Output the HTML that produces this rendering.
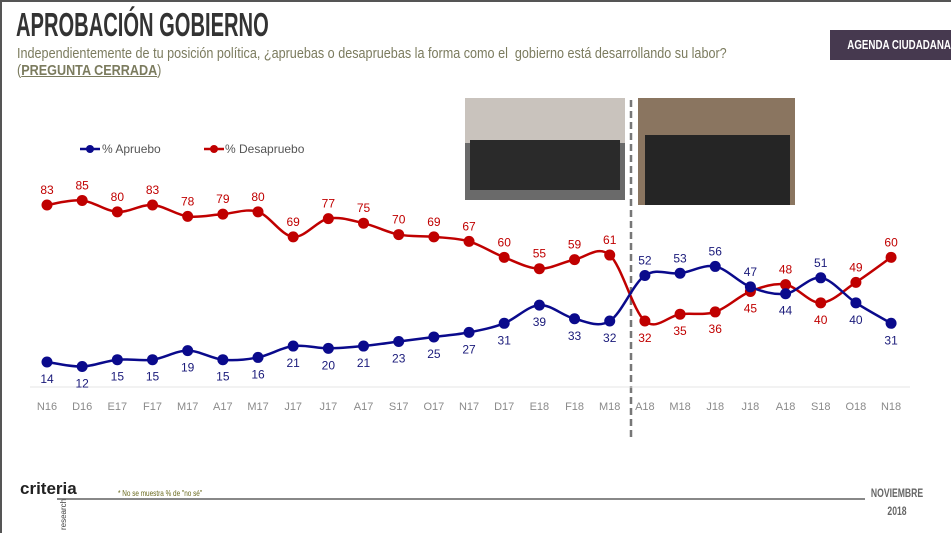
<!DOCTYPE html><html><head><meta charset="utf-8"><style>
body{margin:0;width:951px;height:533px;overflow:hidden;background:#fff;font-family:"Liberation Sans",sans-serif;position:relative}
.frame{position:absolute;left:0;top:0;width:951px;height:533px;box-sizing:border-box;border-left:2px solid #555;border-top:2px solid #555}
.t{position:absolute;left:16px;top:6px;font-size:33px;font-weight:bold;color:#333;transform:scaleX(.61);transform-origin:left;white-space:nowrap}
.s{position:absolute;left:17px;top:46px;font-size:14.5px;color:#7b7b5e;transform:scaleX(.87);transform-origin:left;white-space:nowrap;line-height:17px}
.badge{position:absolute;left:830px;top:30px;width:121px;height:30px;background:#46394f;color:#fff;font-size:13px;font-weight:bold;line-height:30px;text-align:center;white-space:nowrap;overflow:hidden}
svg{position:absolute;left:0;top:0}
</style></head><body>
<div class="frame"></div>
<div class="t">APROBACIÓN GOBIERNO</div>
<div class="s">Independientemente de tu posición política, ¿apruebas o desapruebas la forma como el &nbsp;gobierno está desarrollando su labor?<br>(<u style="font-weight:bold">PREGUNTA CERRADA</u>)</div>
<div class="badge"><span style="display:inline-block;transform:scaleX(.75)">AGENDA CIUDADANA</span></div>
<svg id="c" width="951" height="533"></svg>
<script>
var A=[14,12,15,15,19,15,16,21,20,21,23,25,27,31,39,33,32,52,53,56,47,44,51,40,31];
var D=[83,85,80,83,78,79,80,69,77,75,70,69,67,60,55,59,61,32,35,36,45,48,40,49,60];
var L=["N16","D16","E17","F17","M17","A17","M17","J17","J17","A17","S17","O17","N17","D17","E18","F18","M18","A18","M18","J18","J18","A18","S18","O18","N18"];
function X(i){return 47+35.17*i}function Y(v){return 205+(83-v)*2.275}
function path(d){var p=d.map(function(v,i){return[X(i),Y(v)]});var s="M"+p[0];for(var i=0;i<p.length-1;i++){var a=p[i-1]||p[i],b=p[i],c=p[i+1],e=p[i+2]||c;s+=" C"+(b[0]+(c[0]-a[0])/6)+","+(b[1]+(c[1]-a[1])/6)+" "+(c[0]-(e[0]-b[0])/6)+","+(c[1]-(e[1]-b[1])/6)+" "+c;}return s}
var h='';
h+='<rect x="465" y="98" width="160" height="102" fill="#6a6a6a"/><rect x="465" y="98" width="160" height="45" fill="#c9c3bd"/><rect x="470" y="140" width="150" height="50" fill="#2a2a2a"/>';
h+='<rect x="638" y="98" width="157" height="107" fill="#8a7560"/><rect x="645" y="135" width="145" height="70" fill="#252525"/>';
h+='<line x1="631" y1="100" x2="631" y2="440" stroke="#777" stroke-width="2.5" stroke-dasharray="7,4"/>';
h+='<line x1="30" y1="387" x2="910" y2="387" stroke="#e4e4e4"/>';
h+='<path d="'+path(D)+'" fill="none" stroke="#c00000" stroke-width="2.5"/><path d="'+path(A)+'" fill="none" stroke="#0a0a8c" stroke-width="2.5"/>';
var redUp={};for(var i=0;i<17;i++)redUp[i]=1;redUp[21]=redUp[23]=redUp[24]=1;
var blueUp={17:1,18:1,19:1,20:1,22:1};
for(var i=0;i<25;i++){
h+='<circle cx="'+X(i)+'" cy="'+Y(D[i])+'" r="5.5" fill="#c00000"/><circle cx="'+X(i)+'" cy="'+Y(A[i])+'" r="5.5" fill="#0a0a8c"/>';
h+='<text x="'+X(i)+'" y="'+(Y(D[i])+(redUp[i]?-11:21))+'" fill="#c00000" font-size="12" text-anchor="middle">'+D[i]+'</text>';
h+='<text x="'+X(i)+'" y="'+(Y(A[i])+(blueUp[i]?-11:21))+'" fill="#1a1a7a" font-size="12" text-anchor="middle">'+A[i]+'</text>';
h+='<text x="'+X(i)+'" y="410" fill="#8a8a8a" font-size="11" text-anchor="middle">'+L[i]+'</text>';}
h+='<line x1="80" y1="149" x2="100" y2="149" stroke="#0a0a8c" stroke-width="2.5"/><circle cx="90" cy="149" r="4" fill="#0a0a8c"/><text x="102" y="153" font-size="12" fill="#555">% Apruebo</text>';
h+='<line x1="204" y1="149" x2="224" y2="149" stroke="#c00000" stroke-width="2.5"/><circle cx="214" cy="149" r="4" fill="#c00000"/><text x="225" y="153" font-size="12" fill="#555">% Desapruebo</text>';
h+='<line x1="57" y1="499" x2="865" y2="499" stroke="#888" stroke-width="2"/>';
h+='<text x="20" y="494" font-size="17" font-weight="bold" fill="#222">criteria</text><text transform="translate(66,530) rotate(-90)" font-size="8" fill="#444">research</text>';
h+='<text x="118" y="496" font-size="8" fill="#6a6a20" transform="translate(118,0) scale(.8,1) translate(-118,0)">* No se muestra % de "no sé"</text>';
h+='<g transform="translate(897,0) scale(.72,1)"><text x="0" y="497" font-size="12" font-weight="bold" fill="#666" text-anchor="middle">NOVIEMBRE</text><text x="0" y="515" font-size="12" font-weight="bold" fill="#666" text-anchor="middle">2018</text></g>';
document.getElementById('c').innerHTML=h;
</script></body></html>
